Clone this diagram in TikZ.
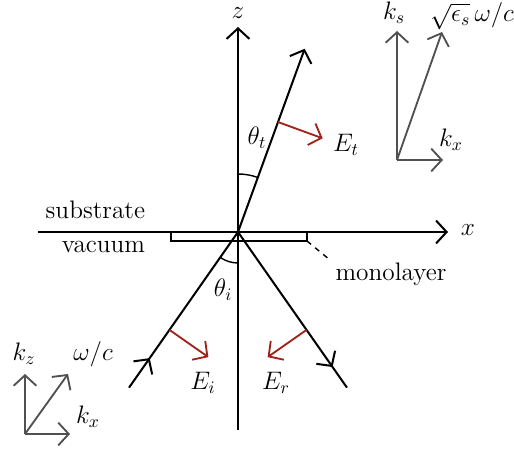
\documentclass[tikz,border=0pt]{standalone}
\usepackage{tikz}
\usetikzlibrary{arrows.meta, calc, decorations.markings}
\usepackage{amsmath}

\definecolor{fieldred}{RGB}{160,35,25}
\definecolor{kgray}{RGB}{80,80,80}

\begin{document}
\begin{tikzpicture}[>={Straight Barb[length=6pt,width=13pt]}, line width=1.15pt,
    font=\Large,
    field/.style={->, fieldred, line width=1.05pt},
    kvec/.style={->, kgray, line width=1.05pt},
    midarrow/.style={postaction={decorate},
        decoration={markings, mark=at position #1 with {\arrow{>}}}}]
    \useasboundingbox (-4.76,-4.4) rectangle (5.52,4.64);

    % Axes and interface
    \coordinate (O) at (0,0);
    \coordinate (zb) at (0,-3.96);
    \coordinate (zt) at (0,4.1);
    \coordinate (xl) at (-4.0,0);
    \coordinate (xr) at (4.2,0);
    \draw[->] (zb) -- (zt);
    \draw[->] (xl) -- (xr);
    \node (zlab) at (0,4.38) {$z$};
    \node (xlab) at (4.6,0.04) {$x$};
    \node[anchor=east] (sub) at (-1.72,0.44) {substrate};
    \node[anchor=east] (vac) at (-1.72,-0.3) {vacuum};

    % Monolayer strip
    \draw[line width=0.8pt] (-1.34,0) rectangle (1.38,-0.18);
    \coordinate (mc) at (1.38,-0.18);
    \node (mono) at (3.06,-0.84) {monolayer};
    \draw[dashed, line width=0.8pt] (mc) -- (1.84,-0.56);

    % Rays
    \coordinate (inc) at (235:3.8);
    \coordinate (ref) at (305:3.8);
    \coordinate (tr) at (70:3.9);
    \draw[midarrow=0.19] (inc) -- (O);
    \draw[midarrow=0.87] (O) -- (ref);
    \draw[->] (O) -- (tr);

    % Angles
    \draw[line width=0.8pt] (90:1.16) arc (90:70:1.16);
    \draw[line width=0.8pt] (235:0.62) arc (235:270:0.62);
    \node (tht) at (0.38,1.88) {$\theta_t$};
    \node (thi) at (-0.3,-1.16) {$\theta_i$};

    % Fields
    \coordinate (et) at (70:2.34);
    \coordinate (ei) at (235:2.39);
    \coordinate (er) at (305:2.39);
    \draw[field] (et) -- ++(-20:0.95);
    \draw[field] (ei) -- ++(-35:0.95);
    \draw[field] (er) -- ++(215:0.95);
    \node (Et) at (2.16,1.74) {$E_t$};
    \node (Ei) at (-0.7,-3.02) {$E_i$};
    \node (Er) at (0.76,-3.02) {$E_r$};

    % Wave vectors in the substrate
    \coordinate (ks) at (3.18,1.44);
    \draw[kvec] (ks) -- ++(0,2.58);
    \draw[kvec] (ks) -- ++(0.9,2.56);
    \draw[kvec] (ks) -- ++(0.92,0);
    \node (kslab) at (3.12,4.38) {$k_s$};
    \node[inner sep=1pt] (kklab) at (4.68,4.32) {$\sqrt{\epsilon_s}\,\omega/c$};
    \node (kxs) at (4.26,1.84) {$k_x$};

    % Wave vectors in vacuum
    \coordinate (kv) at (-4.26,-4.04);
    \draw[kvec] (kv) -- ++(0,1.2);
    \draw[kvec] (kv) -- ++(0.86,1.2);
    \draw[kvec] (kv) -- ++(0.9,0);
    \node (kzlab) at (-4.28,-2.44) {$k_z$};
    \node (wlab) at (-2.9,-2.44) {$\omega/c$};
    \node (kxv) at (-3.0,-3.7) {$k_x$};
\end{tikzpicture}
\end{document}
